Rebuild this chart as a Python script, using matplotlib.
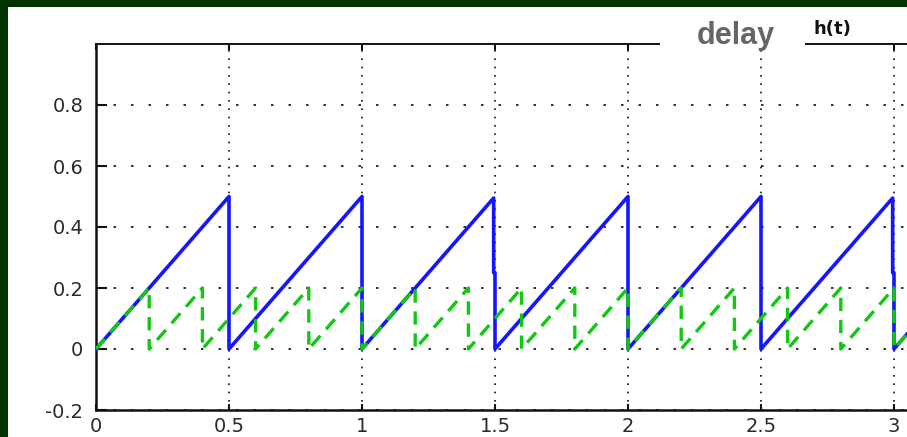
import numpy as np
import matplotlib.pyplot as plt
from matplotlib.patches import Rectangle

# sawtooth corner points (time, value)
blue_t = [0, 0.5, 0.5, 1.0, 1.0, 1.495, 1.495, 1.5, 1.5, 2.0, 2.0, 2.5, 2.5,
          2.995, 2.995, 3.0, 3.0, 3.2]
blue_y = [0, 0.5, 0, 0.5, 0, 0.495, 0.25, 0.25, 0, 0.5, 0, 0.5, 0,
          0.495, 0.25, 0.25, 0, 0.2]

green_t = [0, 0.2, 0.2, 0.4, 0.4, 0.6, 0.6, 0.8, 0.8, 1.0, 1.0, 1.2, 1.2,
           1.4, 1.4, 1.6, 1.6, 1.8, 1.8, 2.0, 2.0, 2.2, 2.2, 2.4, 2.4,
           2.6, 2.6, 2.8, 2.8, 3.0, 3.0, 3.2]
green_y = [0, 0.2, 0, 0.2, 0, 0.2, 0, 0.2, 0, 0.2, 0, 0.2, 0,
           0.2, 0, 0.2, 0, 0.2, 0, 0.2, 0, 0.2, 0, 0.2, 0,
           0.2, 0, 0.2, 0, 0.2, 0, 0.2]

xticks = [0, 0.5, 1, 1.5, 2, 2.5, 3]
xtick_labels = ['0', '0.5', '1', '1.5', '2', '2.5', '3']
yticks = [-0.2, 0, 0.2, 0.4, 0.6, 0.8]
ytick_labels = ['-0.2', '0', '0.2', '0.4', '0.6', '0.8']

W, H = 907, 437
fig = plt.figure(figsize=(W / 100, H / 100), dpi=100, facecolor='#003300')

# white page inside the dark green frame
fig.patches.append(Rectangle((8 / W, 0), 1, 1 - 7 / H, transform=fig.transFigure,
                             facecolor='white', edgecolor='none', zorder=-10))

ax = fig.add_axes([96 / W, 27 / H, 851.2 / W, 366 / H])
ax.set_facecolor('white')

ax.plot(blue_t, blue_y, color='#1515ff', lw=2.6, zorder=3)
gl, = ax.plot(green_t, green_y, color='#10c810', lw=2.4, zorder=4)
gl.set_dashes((4, 2.6))

ax.set_xlim(0, 3.2)
ax.set_ylim(-0.2, 1.0)
ax.set_xticks(xticks, xtick_labels)
ax.set_yticks(yticks, ytick_labels)

# dotted grid, vertical lines denser than horizontal ones
ax.xaxis.grid(True, color='#111111', lw=1.2, linestyle=(0, (1, 4)))
ax.yaxis.grid(True, color='#111111', lw=1.2, linestyle=(0, (1.5, 9)))
ax.set_axisbelow(True)

ax.tick_params(axis='both', direction='in', colors='#111111', labelcolor='#2a2a2a',
               labelsize=14, top=True, right=False)
ax.tick_params(axis='x', length=4, width=1.5, pad=5)
ax.tick_params(axis='y', length=8, width=1.5, pad=9)

for s in ['left', 'bottom', 'top']:
    ax.spines[s].set_color('#111111')
    ax.spines[s].set_linewidth(1.8)
ax.spines['top'].set_linewidth(1.4)
ax.spines['right'].set_visible(False)

# white patch cutting the top border under the label
fig.patches.append(Rectangle((660 / W, 1 - 51 / H), 145 / W, 43 / H,
                             transform=fig.transFigure, facecolor='white',
                             edgecolor='none', zorder=5))
fig.text(736 / W, 1 - 36 / H, 'delay', color='#666666', fontsize=22,
         fontweight='bold', family='Liberation Sans', ha='center', va='center',
         zorder=6)
fig.text(832 / W, 1 - 29 / H, 'h(t)', color='#111111', fontsize=13,
         fontweight='bold', ha='center', va='center', zorder=6)

fig.savefig('out.png', dpi=100, facecolor=fig.get_facecolor())
